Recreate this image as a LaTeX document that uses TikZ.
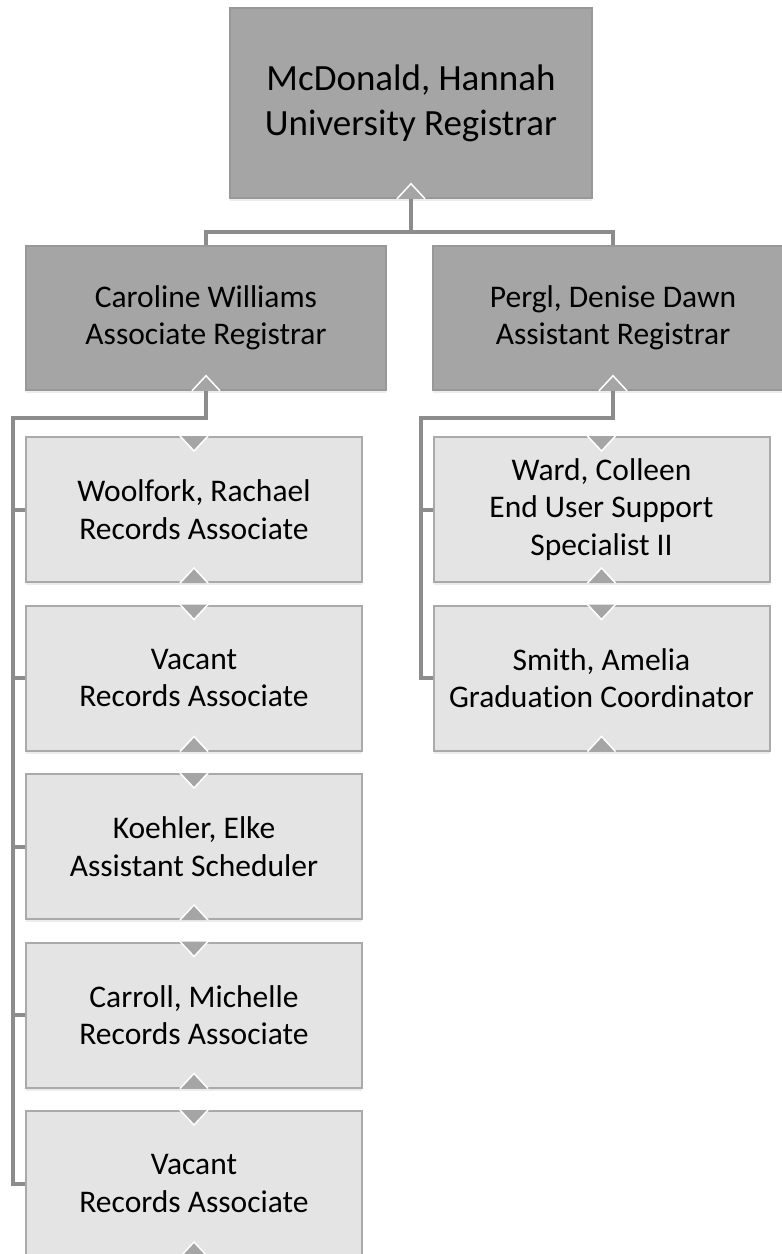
\documentclass[tikz,border=0pt]{standalone}
\usepackage{fontspec}
\setmainfont{Carlito}[Ligatures=NoCommon]
\usetikzlibrary{shadows}
\definecolor{darkbox}{RGB}{165,165,165}
\definecolor{darkrim}{RGB}{152,152,152}
\definecolor{lightbox}{RGB}{228,228,228}
\definecolor{lightrim}{RGB}{170,170,170}
\definecolor{linkgray}{RGB}{140,140,140}

\begin{document}
\begin{tikzpicture}[x=1pt,y=-1pt,node distance=168.5pt,
                    box shadow/.style={drop shadow={shadow xshift=0pt,shadow yshift=-3pt,opacity=.15}},
                    head node/.style={rectangle,draw=darkrim,line width=1.5pt,fill=darkbox,box shadow,
                      minimum width=362pt,minimum height=190pt,inner sep=0pt,align=center,
                      font=\fontsize{37}{45}\selectfont},
                    lead node/.style={head node,minimum width=360pt,minimum height=144pt,
                      font=\fontsize{31.5}{37.5}\selectfont},
                    staff node/.style={lead node,draw=lightrim,fill=lightbox,line width=2pt,
                      minimum width=336pt,minimum height=145pt},
                    link/.style={draw=linkgray,line width=4pt},
                    notch/.style={draw=white,line width=1.5pt,fill=darkbox}]
  \useasboundingbox (0,0) rectangle (782,1254);

  \node[head node] (1) at (411,103) {McDonald, Hannah\\University Registrar};
  \node[lead node] (2) at (206,318) {Caroline Williams\\Associate Registrar};
  \node[lead node] (3) at (613,318) {Pergl, Denise Dawn\\Assistant Registrar};
  \node[staff node] (4) at (194,509.5) {Woolfork, Rachael\\Records Associate};
  \node[staff node] (5) [below of=4] {Vacant\\Records Associate};
  \node[staff node] (6) [below of=5] {Koehler, Elke\\Assistant Scheduler};
  \node[staff node] (7) [below of=6] {Carroll, Michelle\\Records Associate};
  \node[staff node] (8) [below of=7] {Vacant\\Records Associate};
  \node[staff node] (9) at (601.5,509.5) {Ward, Colleen\\End User Support\\Specialist II};
  \node[staff node] (10) [below of=9] {Smith, Amelia\\Graduation Coordinator};

  % reporting lines
  \draw[link] (1.south) -- ++(0,33) -| (2.north);
  \draw[link] (1.south) -- ++(0,33) -| (3.north);
  \coordinate (lspine) at ([xshift=-12pt]4.west);
  \coordinate (rspine) at ([xshift=-12pt]9.west);
  \draw[link] (2.south) -- ++(0,27) -| (lspine |- 8.west) -- (8.west);
  \draw[link] (3.south) -- ++(0,27) -| (rspine |- 10.west) -- (10.west);
  \foreach \n in {4,...,7}
    \draw[link] (lspine |- \n.west) -- (\n.west);
  \draw[link] (rspine |- 9.west) -- (9.west);

  % notches
  \foreach \n in {4,...,10}
    \path[notch] ([xshift=-14pt]\n.north) -- ([yshift=-15pt]\n.north) -- ([xshift=14pt]\n.north);
  \foreach \n in {1,...,10}
    \path[notch] ([xshift=-14pt]\n.south) -- ([yshift=15pt]\n.south) -- ([xshift=14pt]\n.south);
\end{tikzpicture}
\end{document}
